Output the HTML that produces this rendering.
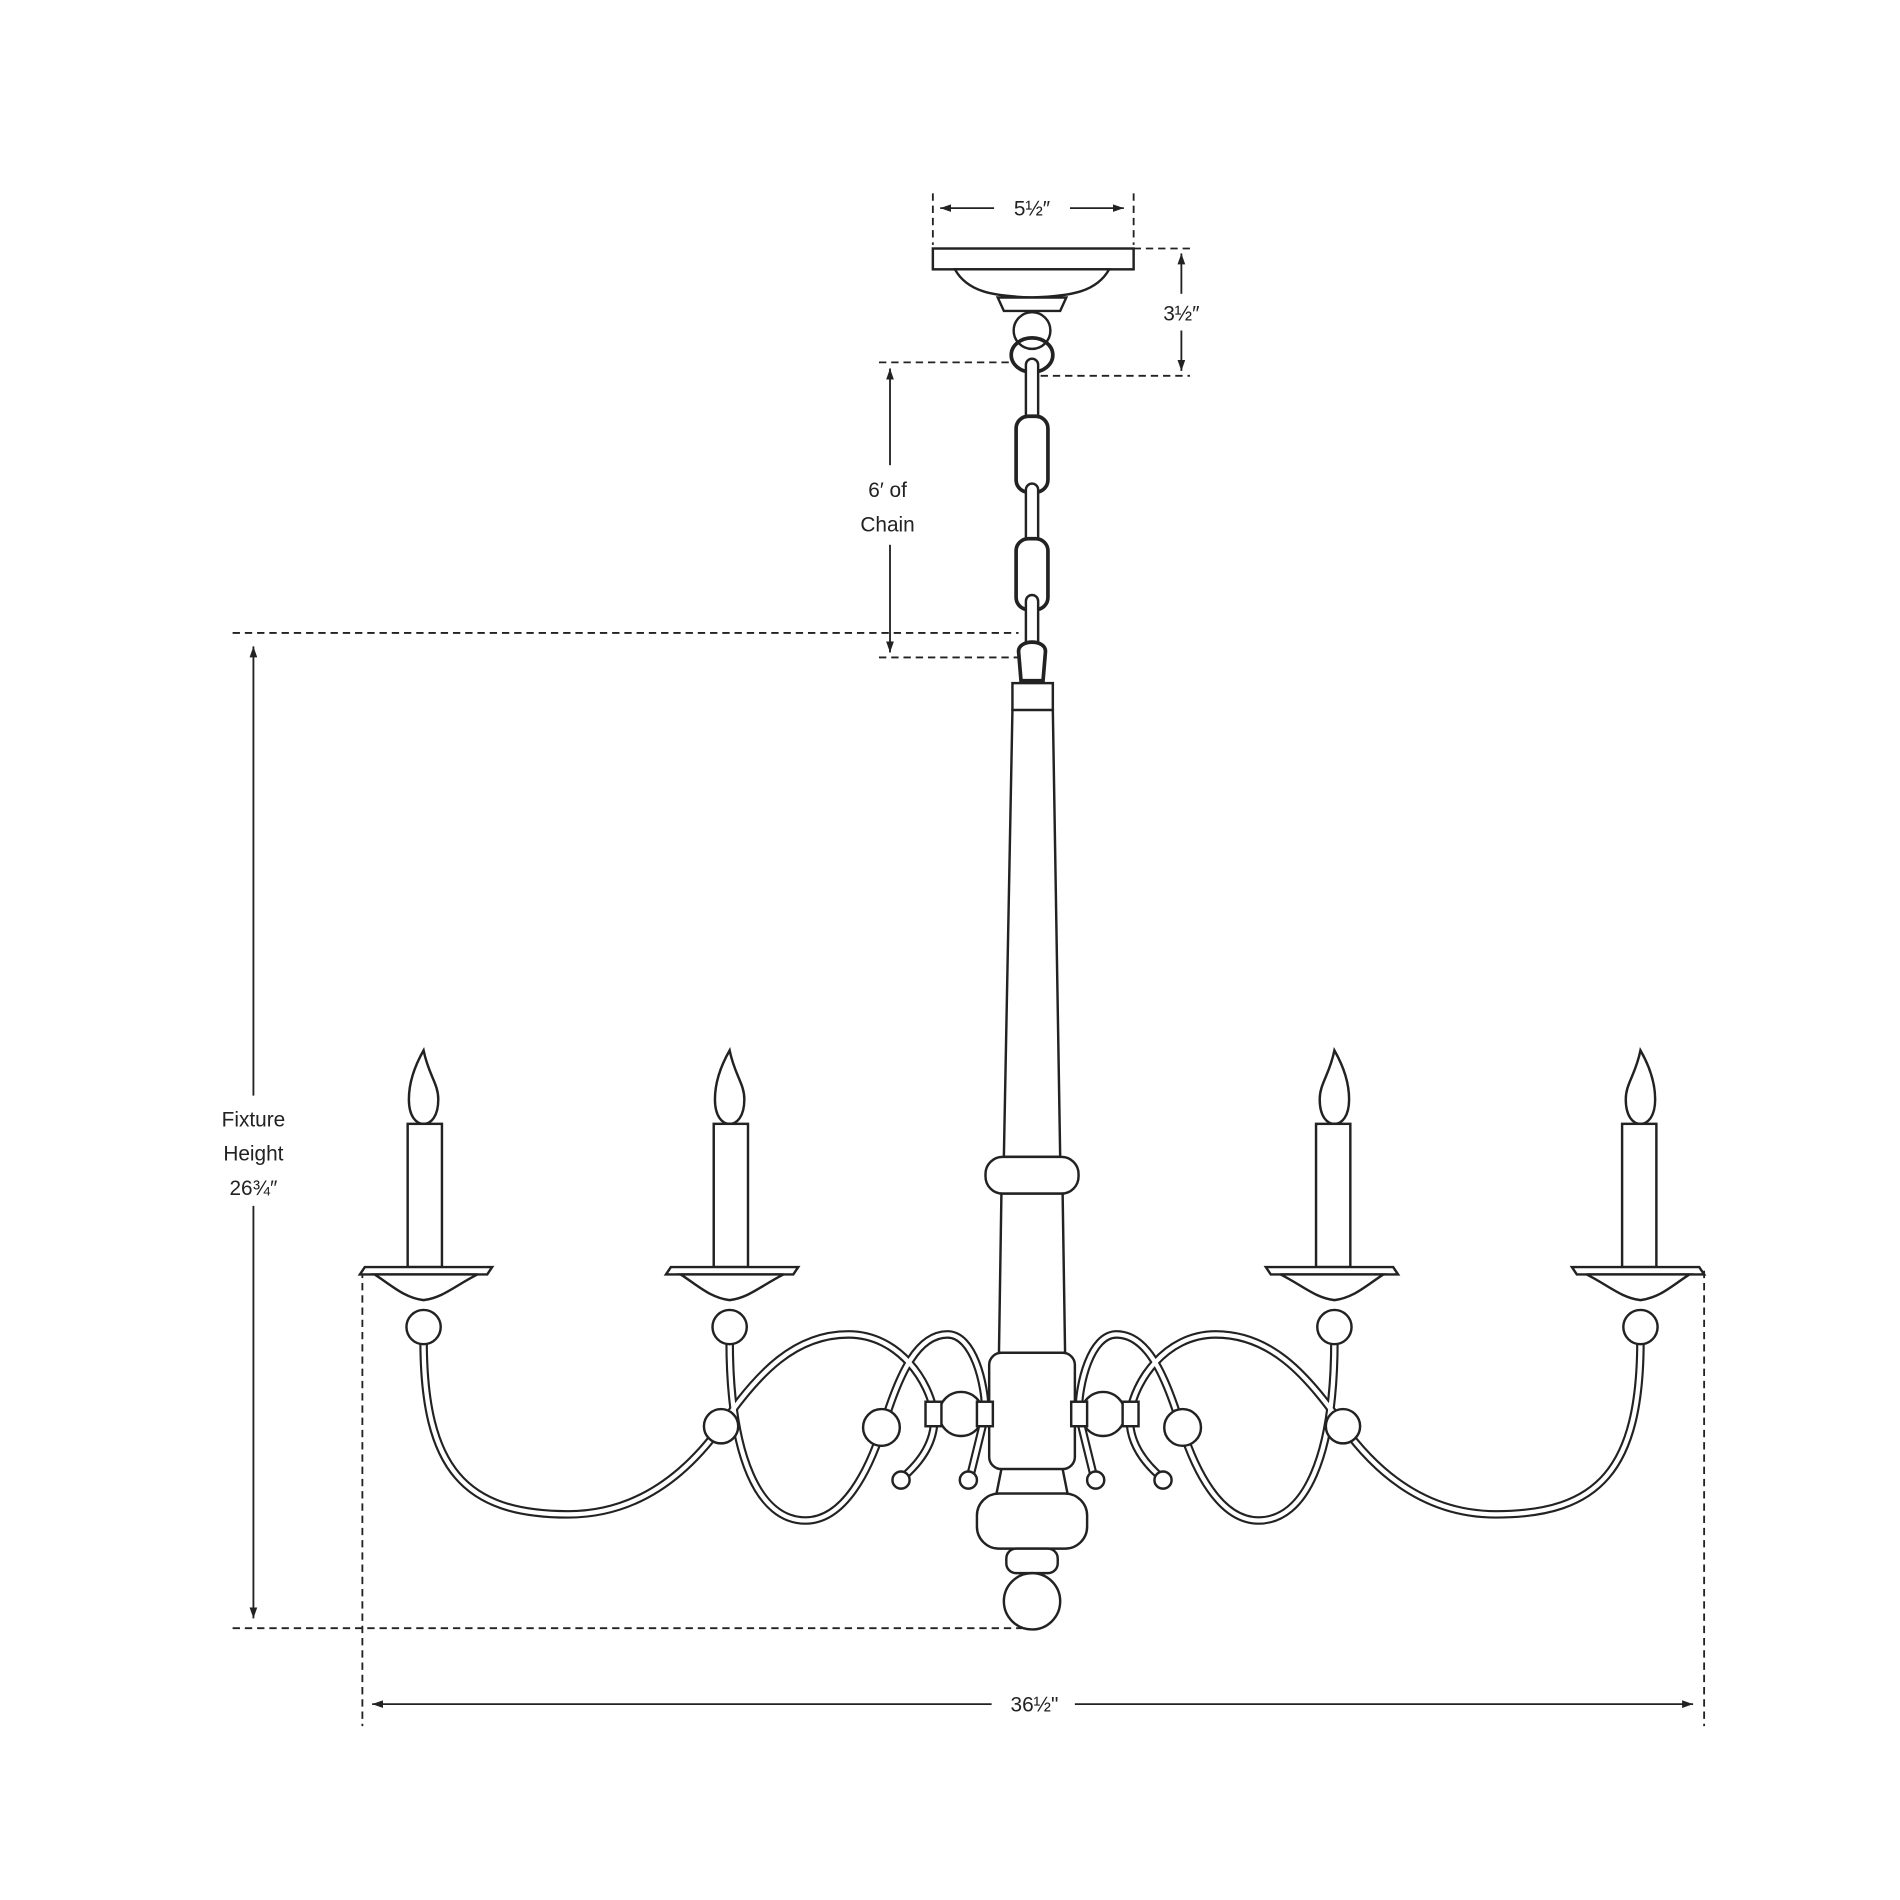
<!DOCTYPE html>
<html><head><meta charset="utf-8"><style>
html,body{margin:0;padding:0;background:#fff}
svg{display:block}
text{font-family:"Liberation Sans",sans-serif;font-size:17px;fill:#222;text-anchor:middle}
</style></head><body>
<svg width="1900" height="1900" viewBox="0 0 1552 1552" xmlns="http://www.w3.org/2000/svg">
<defs>
<marker id="a" viewBox="0 0 10 10" refX="10" refY="5" markerWidth="9" markerHeight="9" orient="auto-start-reverse" markerUnits="userSpaceOnUse"><path d="M0,1.5 L10,5 L0,8.5 z" fill="#222"/></marker>
<g id="half" fill="#fff" stroke="#222" stroke-width="2">
  <g fill="none" stroke-linecap="round">
    <g stroke="#222" stroke-width="7">
      <path d="M346,1095 C346,1200 380,1237 464,1237 C520,1237 560,1205 589,1165 C620,1120 650,1090 693,1090 C735,1090 760,1130 763,1155 C765,1180 748,1198 736,1208"/>
      <path d="M596,1095 C596,1190 620,1242 658,1242 C690,1242 710,1200 721,1166 C735,1120 750,1090 774,1090 C795,1090 805,1130 805,1155 L792,1208"/>
    </g>
    <g stroke="#fff" stroke-width="3.5">
      <path d="M346,1095 C346,1200 380,1237 464,1237 C520,1237 560,1205 589,1165 C620,1120 650,1090 693,1090 C735,1090 760,1130 763,1155 C765,1180 748,1198 736,1208"/>
      <path d="M596,1095 C596,1190 620,1242 658,1242 C690,1242 710,1200 721,1166 C735,1120 750,1090 774,1090 C795,1090 805,1130 805,1155 L792,1208"/>
    </g>
  </g>
  <circle cx="589" cy="1165" r="14"/>
  <circle cx="720" cy="1166" r="15"/>
  <circle cx="736" cy="1209" r="7"/>
  <circle cx="791" cy="1209" r="7"/>
  <rect x="756" y="1145" width="13" height="20"/>
  <rect x="798" y="1145" width="13" height="20"/>
  <g id="cand">
    <path d="M346,858 C338,872 334,885 334,898 C334,912 340,918 346,918 C352,918 358,912 358,898 C358,885 350,878 346,858 Z"/>
    <rect x="333" y="918" width="28" height="117"/>
    <path d="M298,1035 L402,1035 L398,1041 L294,1041 Z"/>
    <path d="M306,1041 C320,1050 330,1060 346,1062 C362,1060 372,1050 390,1041 Z"/>
    <circle cx="346" cy="1084" r="14"/>
  </g>
  <use href="#cand" transform="translate(250,0)"/>
</g>
</defs>

<g stroke="#222" stroke-width="1.5" fill="none">
  <g stroke-dasharray="6,4">
    <line x1="762" y1="158" x2="762" y2="200"/>
    <line x1="926" y1="158" x2="926" y2="200"/>
    <line x1="926" y1="203" x2="972" y2="203"/>
    <line x1="850" y1="307" x2="972" y2="307"/>
    <line x1="718" y1="296" x2="825" y2="296"/>
    <line x1="718" y1="537" x2="835" y2="537"/>
    <line x1="190" y1="517" x2="832" y2="517"/>
    <line x1="190" y1="1330" x2="835" y2="1330"/>
    <line x1="296" y1="1038" x2="296" y2="1410"/>
    <line x1="1392" y1="1038" x2="1392" y2="1410"/>
  </g>
  <line x1="768" y1="170" x2="812" y2="170" marker-start="url(#a)"/>
  <line x1="874" y1="170" x2="918" y2="170" marker-end="url(#a)"/>
  <line x1="965" y1="207" x2="965" y2="240" marker-start="url(#a)"/>
  <line x1="965" y1="270" x2="965" y2="303" marker-end="url(#a)"/>
  <line x1="727" y1="301" x2="727" y2="380" marker-start="url(#a)"/>
  <line x1="727" y1="445" x2="727" y2="533" marker-end="url(#a)"/>
  <line x1="207" y1="528" x2="207" y2="895" marker-start="url(#a)"/>
  <line x1="207" y1="985" x2="207" y2="1322" marker-end="url(#a)"/>
  <line x1="304" y1="1392" x2="810" y2="1392" marker-start="url(#a)"/>
  <line x1="878" y1="1392" x2="1383" y2="1392" marker-end="url(#a)"/>
</g>
<text x="843" y="176">5½″</text>
<text x="965" y="262">3½″</text>
<text x="725" y="406">6′ of</text>
<text x="725" y="434">Chain</text>
<text x="207" y="920">Fixture</text>
<text x="207" y="948">Height</text>
<text x="207" y="976">26¾″</text>
<text x="845" y="1398">36½"</text>

<g fill="#fff" stroke="#222" stroke-width="2">
  <rect x="762" y="203" width="164" height="17"/>
  <path d="M780,220 C790,238 810,242 843,243 C876,242 896,238 906,220 Z"/>
  <path d="M815,243 L871,243 L866,254 L820,254 Z"/>
  <circle cx="843" cy="270" r="15"/>
  <ellipse cx="843" cy="290" rx="17" ry="14" fill="none" stroke-width="3"/>
  <rect x="838" y="293" width="10" height="52" rx="5"/>
  <rect x="830" y="340" width="26" height="62" rx="10" stroke-width="3"/>
  <rect x="838" y="395" width="10" height="50" rx="5"/>
  <rect x="830" y="440" width="26" height="58" rx="10" stroke-width="3"/>
  <rect x="838" y="486" width="10" height="44" rx="5"/>
  <path d="M832,532 C832,522 854,522 854,532 L852,556 L834,556 Z" stroke-width="3"/>
  <rect x="827" y="558" width="33" height="22"/>
  <path d="M827,580 L860,580 L866,945 L820,945 Z"/>
  <rect x="805" y="945" width="76" height="30" rx="14"/>
  <path d="M818,975 L868,975 L870,1105 L816,1105 Z"/>
  <circle cx="785" cy="1155" r="18"/>
  <circle cx="901" cy="1155" r="18"/>
  <rect x="808" y="1105" width="70" height="95" rx="10"/>
  <path d="M818,1200 L868,1200 L872,1220 L814,1220 Z"/>
  <rect x="798" y="1220" width="90" height="45" rx="18"/>
  <rect x="822" y="1265" width="42" height="20" rx="8"/>
  <circle cx="843" cy="1308" r="23"/>
</g>

<use href="#half"/>
<use href="#half" transform="translate(1686,0) scale(-1,1)"/>
</svg>
</body></html>
